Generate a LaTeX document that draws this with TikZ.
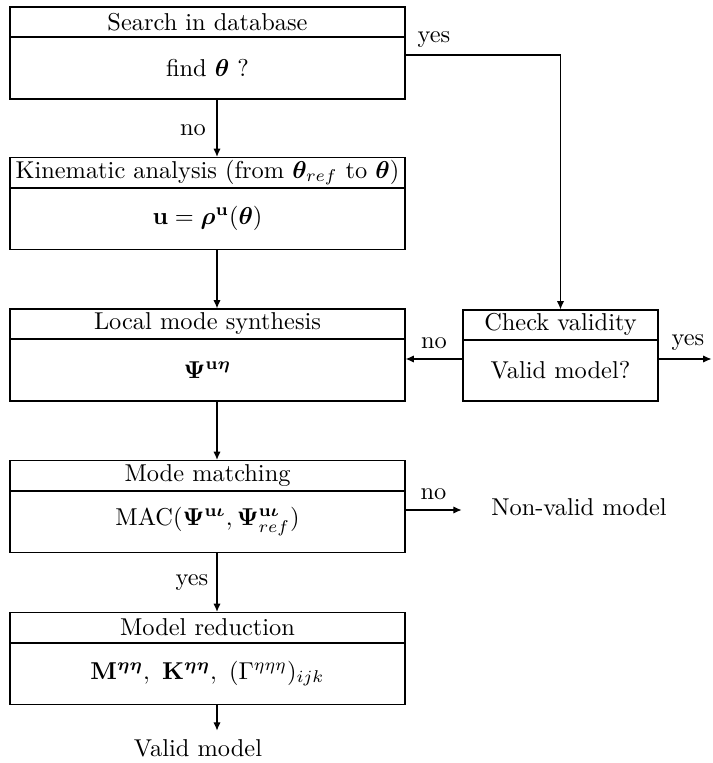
\documentclass[tikz,border=0pt]{standalone}
\usepackage{amsmath,bm}
\usetikzlibrary{arrows.meta,calc}
\tikzset{
  box/.style={draw, line width=0.5pt, minimum width=161.95pt, minimum height=37.72pt, inner sep=0pt},
  cbox/.style={draw, line width=0.5pt, minimum width=79.95pt, minimum height=37.3pt, inner sep=0pt},
  divider/.style={line width=0.9pt},
  arr/.style={-{Latex[length=3.4pt,width=3pt]}, line width=0.5pt},
  lbl/.style={inner sep=0pt},
}
\begin{document}
\begin{tikzpicture}[x=0.41pt,y=-0.41pt]
\useasboundingbox (0,0) rectangle (712,763);
\coordinate (col) at (217,0);
% boxes
\node[box] (b1) at (207.5,53) {};
\node[box] (b2) at (207.5,203.5) {};
\node[box] (b3) at (207.5,355) {};
\node[box] (b4) at (207.5,506.5) {};
\node[box] (b5) at (207.5,658.5) {};
\node[cbox] (cv) at (560.5,355.5) {};
% titles and bodies
\node (t1) at ($(b1.north)+(0,15.5)$) {Search in database};
\node (m1) at ($(b1.north)+(0,61.5)$) {find $\boldsymbol{\theta}$ ?};
\node (t2) at ($(b2.north)+(0,15.5)$) {Kinematic analysis (from $\boldsymbol{\theta}_{ref}$ to $\boldsymbol{\theta}$)};
\node (m2) at ($(b2.north)+(0,61.5)$) {$\mathbf{u}=\boldsymbol{\rho}^{\mathbf{u}}(\boldsymbol{\theta})$};
\node (t3) at ($(b3.north)+(0,15.5)$) {Local mode synthesis};
\node (m3) at ($(b3.north)+(0,61.5)$) {$\boldsymbol{\Psi}^{\mathbf{u}\boldsymbol{\eta}}$};
\node (t4) at ($(b4.north)+(0,15.5)$) {Mode matching};
\node (m4) at ($(b4.north)+(0,61.5)$) {MAC$(\boldsymbol{\Psi}^{\mathbf{u}\boldsymbol{\iota}},\boldsymbol{\Psi}^{\mathbf{u}\boldsymbol{\iota}}_{ref})$};
\node (t5) at ($(b5.north)+(0,15.5)$) {Model reduction};
\node (m5) at ($(b5.north)+(0,61.5)$) {$\mathbf{M}^{\boldsymbol{\eta\eta}},\ \mathbf{K}^{\boldsymbol{\eta\eta}},\ (\Gamma^{\eta\eta\eta})_{ijk}$};
\node (tc) at ($(cv.north)+(0,15.5)$) {Check validity};
\node (mc) at ($(cv.north)+(0,61)$) {Valid model?};
% dividers
\foreach \b in {b1,b2,b3,b4,b5,cv}
  \draw[divider] ($(\b.north west)+(0,31)$) -- ($(\b.north east)+(0,31)$);
% outside texts
\node (nv) at (579,507) {Non-valid model};
\node (vm) at (198,748) {Valid model};
\coordinate (out) at (711.5,359);
% connectors
\draw[arr] (b1.south -| col) -- (b2.north -| col);
\draw[arr] (b2.south -| col) -- (b3.north -| col);
\draw[arr] (b3.south -| col) -- (b4.north -| col);
\draw[arr] (b4.south -| col) -- (b5.north -| col);
\draw[arr] (b5.south -| col) -- (vm.north -| col);
\draw[arr] ($(b1.east)+(0,2)$) -| (cv.north);
\draw[arr] ($(cv.west)+(0,3.5)$) -- ($(b3.east)+(0,4)$);
\draw[arr] ($(cv.east)+(0,3.5)$) -- (out);
\draw[arr, shorten >=8.6pt] ($(b4.east)+(0,3.5)$) -- (nv.west |- {$(b4.east)+(0,3.5)$});
% labels
\node[lbl] (l1) at (193,130) {no};
\node[lbl] (l2) at (434,39.5) {yes};
\node[lbl] (l3) at (434,343.5) {no};
\node[lbl] (l4) at (688,342.5) {yes};
\node[lbl] (l5) at (433.5,494) {no};
\node[lbl] (l6) at (192,583) {yes};
\end{tikzpicture}
\end{document}
